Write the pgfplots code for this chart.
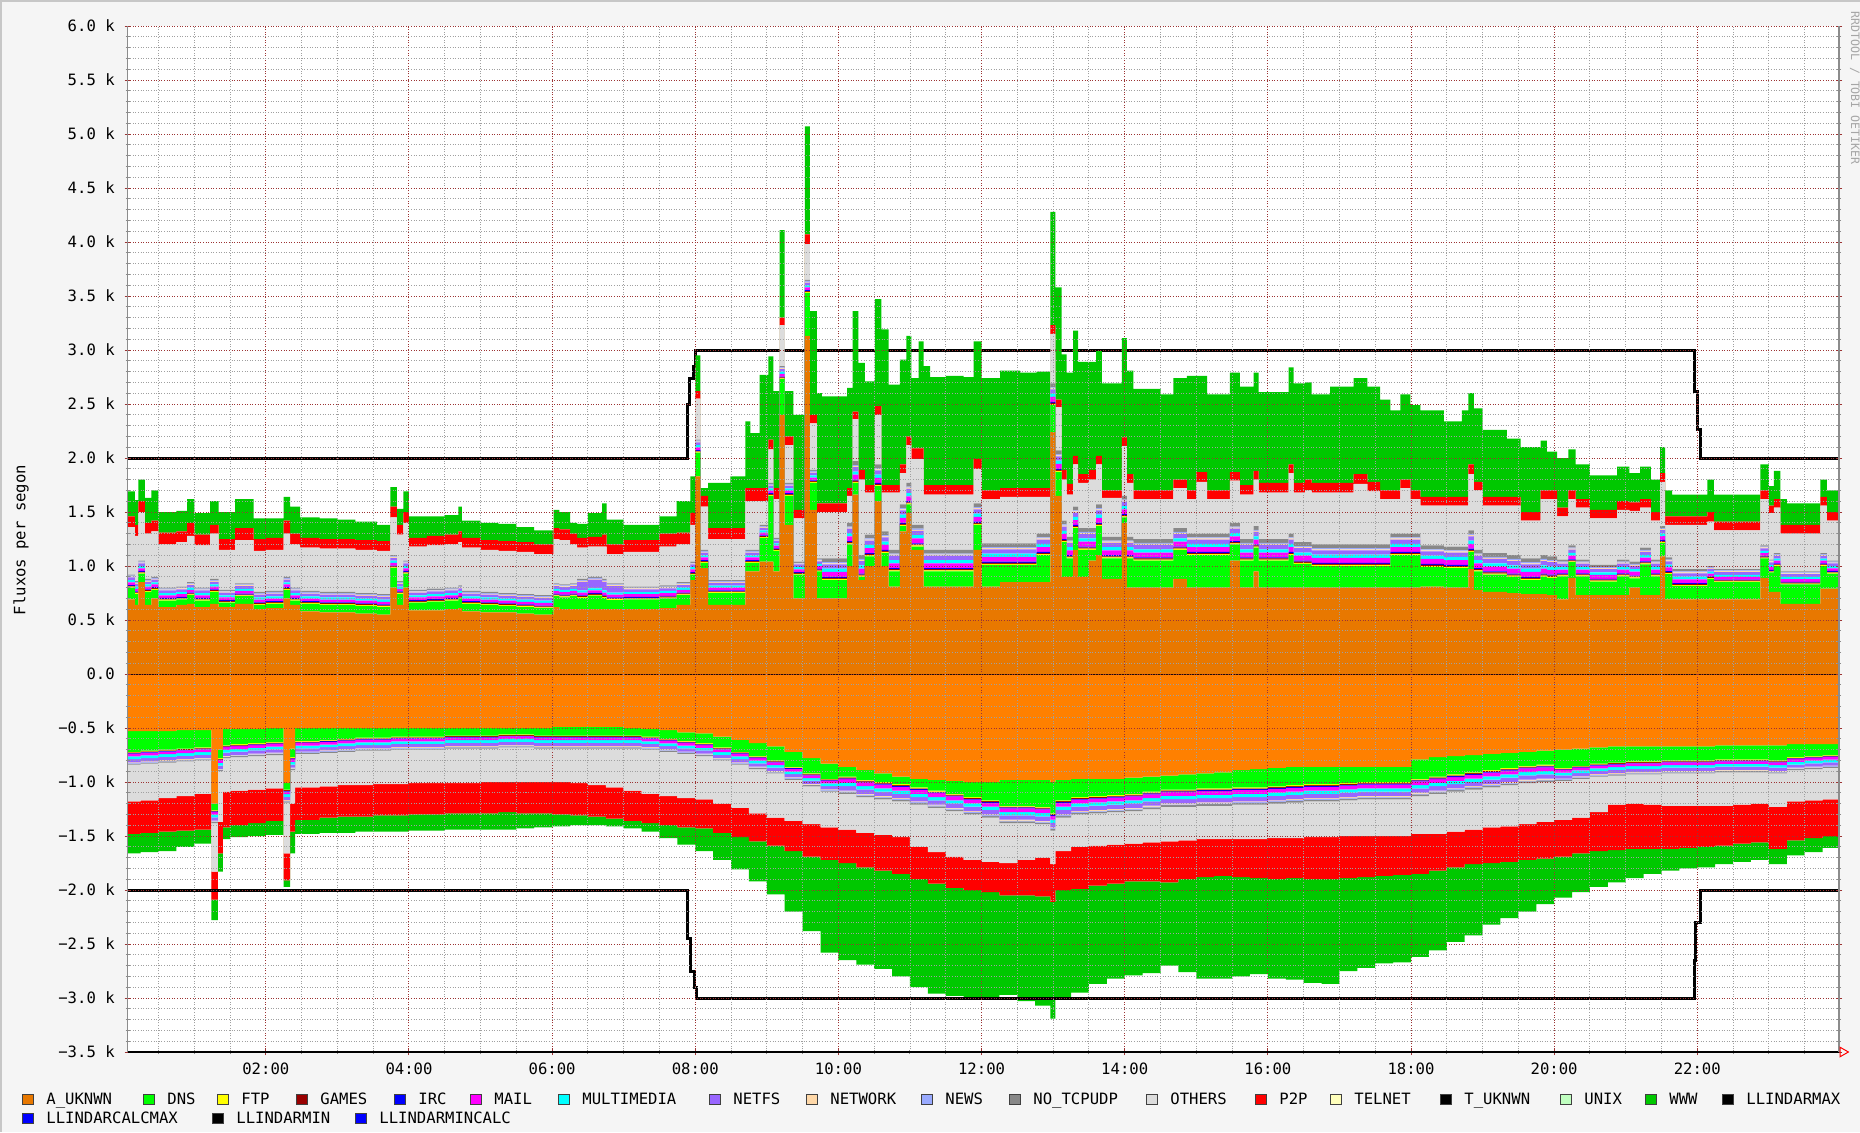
\documentclass[border=0pt]{standalone}
\usepackage{pgfplots}
\pgfplotsset{compat=1.18}
\usepackage{pgfplotstable}
\usepackage{fontspec}
\setmainfont{DejaVu Sans Mono}
\definecolor{cAUK}{HTML}{E87800}
\definecolor{cAUKn}{HTML}{FF8000}
\definecolor{cDNS}{HTML}{00FF00}
\definecolor{cFTP}{HTML}{FFFF00}
\definecolor{cGAM}{HTML}{990000}
\definecolor{cIRC}{HTML}{0000FF}
\definecolor{cMAIL}{HTML}{FF00FF}
\definecolor{cMM}{HTML}{00FFFF}
\definecolor{cNFS}{HTML}{9966FF}
\definecolor{cNET}{HTML}{FFD8A8}
\definecolor{cNEWS}{HTML}{99AAFF}
\definecolor{cNOT}{HTML}{888888}
\definecolor{cOTH}{HTML}{DCDCDC}
\definecolor{cP2P}{HTML}{FF0000}
\definecolor{cTEL}{HTML}{FFFFBB}
\definecolor{cTUK}{HTML}{000000}
\definecolor{cUNIX}{HTML}{C0FFC0}
\definecolor{cWWW}{HTML}{00C800}
\definecolor{gridmaj}{HTML}{9C3434}
\definecolor{gridmin}{HTML}{A0A0A0}
\definecolor{canvas}{HTML}{F5F5F5}
\newcommand\lgfont{\fontsize{7.8}{9}\selectfont}

\pgfplotstableread{
t A D s M C N T O P W
0.00 690 110 8 25 20 25 10 440 100 230
0.17 640 100 8 25 20 25 10 420 100 230
0.22 850 80 8 25 20 25 10 450 100 200
0.31 640 120 8 25 20 25 10 420 100 230
0.40 700 80 8 25 20 25 10 420 100 280
0.50 620 60 8 25 20 25 10 400 110 190
0.75 640 50 8 25 20 25 10 410 100 190
0.90 650 80 8 25 20 25 10 430 120 220
1.00 620 60 8 25 20 25 10 390 100 200
1.22 650 110 8 25 20 25 10 420 80 220
1.34 620 40 8 25 20 25 10 370 100 250
1.57 650 70 8 25 20 25 10 400 110 270
1.83 600 40 8 25 20 25 10 380 110 190
2.00 610 40 8 25 20 25 10 380 110 180
2.25 700 80 8 25 20 25 10 400 120 220
2.34 640 40 8 25 20 25 10 400 100 250
2.48 580 70 8 25 20 25 10 400 90 190
2.75 570 70 8 25 20 25 10 400 90 190
3.00 570 70 8 25 20 25 10 400 90 180
3.25 560 70 8 25 20 25 10 400 90 170
3.55 550 70 8 25 20 25 10 400 90 150
3.74 800 180 8 25 20 25 10 350 100 180
3.83 640 100 8 25 20 25 10 430 90 150
3.92 800 130 8 25 20 25 10 350 100 190
4.00 590 70 8 25 20 25 10 400 80 200
4.25 590 80 8 25 20 25 10 400 90 180
4.50 600 80 8 25 20 25 10 400 90 180
4.69 610 90 8 25 20 25 10 400 100 230
4.74 580 70 8 25 20 25 10 400 90 160
5.00 570 70 8 25 20 25 10 390 90 160
5.25 570 60 8 25 20 25 10 390 90 160
5.50 560 60 8 25 20 25 10 390 90 140
5.75 550 60 8 25 20 25 10 380 90 130
6.02 620 100 8 25 20 25 10 410 100 170
6.10 600 110 8 25 20 25 10 410 100 160
6.25 600 120 8 25 20 25 10 360 100 100
6.35 600 105 8 25 20 80 10 290 90 130
6.50 600 125 8 25 20 80 10 280 90 220
6.70 600 105 8 25 20 80 10 300 110 290
6.76 600 85 8 25 20 60 10 270 90 230
7.00 600 90 8 25 20 25 10 320 110 140
7.25 600 90 8 25 20 25 10 320 110 140
7.50 610 90 8 25 20 25 10 360 120 160
7.74 640 90 8 25 20 25 10 350 110 290
7.93 870 50 8 25 20 25 10 340 110 340
8.00 1830 220 8 25 20 25 10 380 70 330
8.07 980 50 8 25 20 25 10 400 100 70
8.18 640 110 8 25 20 25 10 380 100 420
8.49 640 110 8 25 20 25 10 380 100 480
8.70 950 80 8 25 20 25 10 450 120 620
8.77 950 80 8 25 20 25 10 450 120 510
8.90 1040 220 8 25 20 25 10 220 120 1050
9.02 1040 610 8 25 20 25 10 310 90 770
9.09 950 190 8 25 20 25 10 360 100 900
9.18 2400 330 8 25 20 25 10 380 70 810
9.25 1380 270 8 25 20 25 10 350 80 420
9.37 700 220 8 25 20 25 10 400 80 880
9.53 3130 400 8 25 20 25 10 330 90 1000
9.60 1520 250 8 25 20 25 10 430 80 960
9.70 700 250 8 25 20 25 10 430 80 1020
9.77 700 170 10 45 30 40 35 430 80 990
10.12 1000 200 10 45 30 40 35 250 70 930
10.20 1660 110 10 45 30 40 35 390 70 930
10.28 870 30 10 45 30 40 35 700 90 990
10.37 1000 90 10 45 30 40 35 390 70 960
10.51 1600 140 10 45 30 40 35 460 80 990
10.60 1000 120 10 45 30 40 35 360 70 1440
10.70 810 140 10 45 30 40 35 530 70 930
10.86 1320 50 10 45 30 40 35 290 80 970
10.95 1490 80 10 45 30 40 35 350 80 930
11.02 1150 30 10 45 30 40 35 610 100 650
11.12 1150 30 10 45 30 40 35 610 100 990
11.19 810 140 10 45 30 40 35 510 90 1100
11.28 810 140 10 45 30 40 35 510 90 1000
11.50 810 140 10 45 30 40 35 510 90 1010
11.75 810 140 10 45 30 40 35 510 90 1000
11.89 1150 230 10 45 30 40 35 320 90 1090
12.00 810 200 10 45 30 40 35 410 80 1040
12.26 850 160 10 45 30 40 35 430 80 1090
12.54 850 160 10 45 30 40 35 430 80 1070
12.77 850 250 10 45 30 40 35 340 80 1080
12.96 2240 250 10 45 30 40 35 460 80 1050
13.03 1650 220 10 45 30 40 35 400 70 1040
13.12 900 320 10 45 30 40 35 380 90 1070
13.19 900 170 10 45 30 40 35 390 100 1030
13.28 1150 200 10 45 30 40 35 390 80 1160
13.35 900 250 10 45 30 40 35 420 80 1040
13.50 1050 100 10 45 30 40 35 450 90 1000
13.60 1100 270 10 45 30 40 35 370 80 970
13.68 880 190 10 45 30 40 35 360 70 990
13.96 1400 50 10 45 30 40 35 460 80 920
14.03 800 270 10 45 30 40 35 500 80 960
14.12 800 250 10 45 30 40 35 370 80 940
14.50 800 250 10 45 30 40 35 370 80 890
14.68 880 270 10 45 30 40 35 370 80 940
14.87 800 300 10 45 30 40 35 320 80 1060
15.00 800 300 10 45 30 40 35 480 90 890
15.15 800 300 10 45 30 40 35 320 80 890
15.47 1050 150 10 45 30 40 35 390 80 920
15.61 800 250 10 45 30 40 35 410 90 910
15.80 950 220 10 45 30 40 35 430 80 910
15.87 800 250 10 45 30 40 35 430 90 840
16.29 800 300 10 45 30 40 35 560 80 900
16.36 800 220 10 45 30 40 35 460 90 920
16.52 800 220 10 45 30 40 35 480 100 900
16.61 800 200 10 45 30 40 35 480 90 820
16.87 800 200 10 45 30 40 35 480 90 890
17.20 800 200 10 45 30 40 35 560 90 890
17.39 800 200 10 45 30 40 35 490 90 880
17.57 800 200 10 45 30 40 35 420 80 840
17.71 800 300 10 45 30 40 35 320 80 740
17.85 800 300 10 45 30 40 35 420 80 790
17.99 800 300 10 45 30 40 35 320 80 790
18.13 810 180 10 45 30 40 35 370 80 800
18.46 800 180 10 45 30 40 35 380 80 700
18.71 800 180 10 45 30 40 35 380 80 800
18.80 970 160 10 45 30 40 35 520 90 660
18.88 780 170 10 45 30 40 35 550 80 680
19.00 760 160 10 45 30 40 35 440 80 620
19.34 750 150 10 45 30 40 35 460 80 540
19.53 740 130 10 45 30 40 35 350 80 600
19.81 740 160 10 45 30 40 35 520 80 460
19.90 730 160 10 45 30 40 35 530 80 360
20.04 690 215 9 35 25 30 20 400 80 460
20.20 890 145 9 35 25 30 20 430 80 380
20.30 730 175 9 35 25 30 20 480 80 320
20.50 730 125 9 35 25 30 20 430 80 320
20.88 730 175 9 35 25 30 20 460 80 320
21.05 800 85 9 35 25 30 20 470 80 270
21.20 730 285 9 35 25 30 20 370 80 300
21.35 730 175 9 35 25 30 20 360 80 300
21.48 1090 125 9 35 25 30 20 410 80 240
21.55 690 235 9 35 25 30 20 300 80 240
21.65 690 125 9 35 25 30 20 410 80 200
22.14 690 190 8 25 20 25 10 410 90 300
22.23 690 160 8 25 20 25 10 360 80 250
22.88 890 180 8 25 20 25 10 430 80 240
23.00 760 180 8 25 20 25 10 430 70 180
23.07 760 240 8 25 20 25 10 420 80 260
23.16 650 180 8 25 20 25 10 350 80 240
23.25 650 180 8 25 20 25 10 350 80 200
23.72 790 210 8 25 20 25 10 440 80 160
23.81 790 140 8 25 20 25 10 370 80 200
23.98 790 140 8 25 20 25 10 370 80 200
}\pos

\pgfplotstableread{
t a d s m c n g o p w
0.00 -530 -190 -6 -25 -25 -30 -10 -340 -300 -180
0.25 -530 -180 -6 -25 -25 -30 -10 -340 -300 -180
0.50 -530 -170 -6 -25 -25 -30 -10 -330 -310 -180
0.75 -520 -170 -6 -25 -25 -30 -10 -320 -320 -150
1.00 -520 -160 -6 -25 -25 -30 -10 -310 -330 -130
1.24 -1200 -60 -6 -25 -25 -30 -10 -450 -260 -190
1.33 -700 -80 -6 -25 -25 -30 -10 -470 -290 -170
1.40 -510 -150 -6 -25 -25 -30 -10 -310 -330 -110
1.50 -510 -140 -6 -25 -25 -30 -10 -310 -320 -110
1.75 -510 -130 -6 -25 -25 -30 -10 -310 -310 -120
2.00 -500 -130 -6 -25 -25 -30 -10 -310 -300 -130
2.25 -1010 -60 -6 -25 -25 -30 -10 -470 -250 -60
2.34 -690 -80 -6 -25 -25 -30 -10 -310 -260 -200
2.41 -500 -120 -6 -25 -25 -30 -10 -310 -300 -130
2.75 -500 -110 -6 -25 -25 -30 -10 -310 -290 -140
3.00 -500 -100 -6 -25 -25 -30 -10 -310 -290 -150
3.25 -500 -90 -6 -25 -25 -30 -10 -320 -290 -140
3.50 -500 -90 -6 -25 -25 -30 -10 -310 -290 -150
3.75 -500 -80 -6 -25 -25 -30 -10 -320 -290 -150
4.00 -500 -80 -6 -25 -25 -30 -10 -310 -290 -150
4.25 -500 -80 -6 -25 -25 -30 -10 -310 -290 -150
4.50 -500 -70 -6 -25 -25 -30 -10 -320 -280 -150
4.75 -500 -70 -6 -25 -25 -30 -10 -320 -280 -150
5.00 -500 -70 -6 -25 -25 -30 -10 -310 -290 -150
5.25 -500 -60 -6 -25 -25 -30 -10 -320 -280 -160
5.50 -500 -60 -6 -25 -25 -30 -10 -320 -290 -140
5.75 -500 -70 -6 -25 -25 -30 -10 -310 -290 -130
6.00 -490 -80 -6 -25 -25 -30 -10 -310 -300 -110
6.25 -490 -80 -6 -25 -25 -30 -10 -320 -300 -90
6.50 -490 -80 -6 -25 -25 -30 -10 -340 -290 -80
6.75 -490 -80 -6 -25 -25 -30 -10 -360 -290 -70
7.00 -500 -70 -6 -25 -25 -30 -10 -390 -280 -70
7.25 -510 -70 -6 -25 -25 -30 -10 -410 -270 -80
7.50 -520 -80 -6 -25 -25 -30 -10 -410 -270 -120
7.75 -540 -80 -6 -25 -25 -30 -10 -410 -270 -160
8.00 -550 -90 -6 -25 -25 -30 -10 -400 -270 -210
8.25 -580 -100 -6 -25 -25 -30 -10 -400 -270 -250
8.50 -610 -110 -6 -25 -25 -30 -10 -400 -270 -300
8.75 -640 -120 -6 -25 -25 -30 -10 -410 -260 -370
9.00 -670 -130 -6 -25 -25 -30 -10 -410 -260 -450
9.25 -720 -140 -6 -25 -25 -30 -10 -380 -280 -560
9.50 -780 -140 -6 -25 -25 -30 -10 -350 -300 -690
9.75 -830 -140 -6 -25 -25 -30 -10 -330 -300 -860
10.00 -860 -90 -8 -35 -30 -40 -15 -330 -310 -900
10.25 -890 -90 -8 -35 -30 -40 -15 -330 -320 -900
10.50 -920 -80 -8 -35 -30 -40 -15 -330 -330 -910
10.75 -950 -70 -8 -35 -30 -40 -15 -330 -340 -950
11.00 -970 -80 -8 -35 -30 -40 -15 -390 -300 -1000
11.25 -980 -100 -8 -35 -30 -40 -15 -410 -290 -1020
11.50 -990 -120 -8 -35 -30 -40 -15 -420 -290 -1000
11.75 -1000 -140 -8 -35 -30 -40 -15 -420 -280 -990
12.00 -1000 -170 -8 -35 -30 -40 -15 -410 -280 -970
12.25 -980 -240 -8 -35 -30 -40 -15 -370 -300 -920
12.50 -980 -240 -8 -35 -30 -40 -15 -340 -330 -980
12.75 -980 -250 -8 -35 -30 -40 -15 -310 -360 -1010
12.96 -1000 -290 -8 -35 -30 -40 -15 -310 -350 -1080
13.03 -980 -190 -8 -35 -30 -40 -15 -310 -360 -1000
13.25 -970 -170 -8 -35 -30 -40 -15 -300 -390 -960
13.50 -970 -160 -8 -35 -30 -40 -15 -300 -370 -910
13.75 -970 -150 -8 -35 -30 -40 -15 -300 -360 -880
14.00 -960 -150 -8 -35 -30 -40 -15 -300 -350 -870
14.25 -950 -140 -8 -35 -30 -40 -15 -310 -360 -850
14.50 -940 -130 -8 -35 -30 -40 -15 -320 -380 -770
14.75 -930 -140 -8 -35 -30 -40 -15 -310 -360 -860
15.00 -920 -140 -8 -35 -30 -40 -15 -310 -350 -940
15.25 -910 -150 -8 -35 -30 -40 -15 -310 -340 -950
15.50 -890 -160 -8 -35 -30 -40 -15 -320 -350 -920
15.75 -880 -170 -8 -35 -30 -40 -15 -320 -360 -890
16.00 -870 -170 -8 -35 -30 -40 -15 -320 -380 -920
16.25 -860 -170 -8 -35 -30 -40 -15 -330 -370 -940
16.50 -860 -160 -8 -35 -30 -40 -15 -330 -390 -960
16.75 -860 -160 -8 -35 -30 -40 -15 -330 -390 -970
17.00 -860 -150 -8 -35 -30 -40 -15 -330 -390 -860
17.25 -860 -140 -8 -35 -30 -40 -15 -340 -380 -840
17.50 -860 -140 -8 -35 -30 -40 -15 -340 -370 -810
17.75 -860 -140 -8 -35 -30 -40 -15 -340 -360 -810
18.00 -790 -180 -8 -35 -30 -40 -15 -350 -370 -770
18.25 -770 -180 -8 -35 -30 -40 -15 -370 -340 -740
18.50 -760 -170 -8 -35 -30 -40 -15 -370 -330 -690
18.75 -750 -160 -8 -35 -30 -40 -15 -370 -320 -660
19.00 -740 -150 -8 -35 -30 -40 -15 -370 -330 -570
19.25 -730 -140 -8 -35 -30 -40 -15 -380 -330 -520
19.50 -720 -130 -8 -35 -30 -40 -15 -380 -330 -480
19.75 -710 -130 -8 -35 -30 -40 -15 -370 -340 -420
20.00 -700 -170 -6 -25 -25 -30 -10 -360 -340 -380
20.25 -690 -160 -6 -25 -25 -30 -10 -360 -330 -360
20.50 -680 -150 -6 -25 -25 -30 -10 -330 -360 -330
20.75 -670 -150 -6 -25 -25 -30 -10 -270 -420 -300
21.00 -670 -140 -6 -25 -25 -30 -10 -270 -420 -270
21.25 -670 -140 -6 -25 -25 -30 -10 -280 -410 -230
21.50 -670 -130 -6 -25 -25 -30 -10 -300 -400 -200
21.75 -670 -130 -6 -25 -25 -30 -10 -300 -390 -190
22.00 -670 -130 -6 -25 -25 -30 -10 -300 -380 -190
22.25 -660 -130 -6 -25 -25 -30 -10 -310 -370 -170
22.50 -660 -130 -6 -25 -25 -30 -10 -300 -360 -170
22.75 -660 -130 -6 -25 -25 -30 -10 -290 -360 -160
23.00 -660 -140 -6 -25 -25 -30 -10 -310 -390 -140
23.25 -650 -120 -6 -25 -25 -30 -10 -290 -360 -140
23.50 -650 -110 -6 -25 -25 -30 -10 -290 -350 -130
23.75 -650 -100 -6 -25 -25 -30 -10 -290 -340 -110
23.98 -650 -100 -6 -25 -25 -30 -10 -290 -340 -110
}\negt

\pgfplotsset{rrd/.style={scale only axis, width=855.65pt, height=513pt,
  at={(63.85pt,40pt)}, anchor=south west,
  xmin=0.07, xmax=23.98, ymin=-3500, ymax=6000, stack plots=y}}

\newcommand\lgd[4]{%
  \filldraw[fill=#3, draw=black!75, line width=0.4pt] ({#1/2},{#2-2.5}) rectangle ++(5.5,5);
  \node[anchor=west, inner sep=0pt, text height=5.6pt, text depth=0pt, font=\lgfont] at ({#1/2+12},{#2}) {#4};}

\begin{document}
\begin{tikzpicture}[x=1pt,y=1pt]
\useasboundingbox (0,0) rectangle (930,566);
\fill[canvas] (0,0) rectangle (930,566);
\fill[black!22] (0,565) rectangle (930,566);
\fill[black!22] (0,0) rectangle (1,566);
\fill[white] (63.85,40) rectangle (919.5,553);

% negative (outgoing) stack
\begin{axis}[rrd, hide axis]
\addplot[fill=cAUKn, draw=none, const plot] table[x=t,y=a] {\negt} \closedcycle;
\addplot[fill=cDNS, draw=none, const plot] table[x=t,y=d] {\negt} \closedcycle;
\addplot[fill=cFTP, draw=none, const plot] table[x=t,y=s] {\negt} \closedcycle;
\addplot[fill=cGAM, draw=none, const plot] table[x=t,y=s] {\negt} \closedcycle;
\addplot[fill=cIRC, draw=none, const plot] table[x=t,y=s] {\negt} \closedcycle;
\addplot[fill=cMAIL, draw=none, const plot] table[x=t,y=m] {\negt} \closedcycle;
\addplot[fill=cMM, draw=none, const plot] table[x=t,y=c] {\negt} \closedcycle;
\addplot[fill=cNFS, draw=none, const plot] table[x=t,y=n] {\negt} \closedcycle;
\addplot[fill=cNET, draw=none, const plot] table[x=t,y=s] {\negt} \closedcycle;
\addplot[fill=cNEWS, draw=none, const plot] table[x=t,y=s] {\negt} \closedcycle;
\addplot[fill=cNOT, draw=none, const plot] table[x=t,y=g] {\negt} \closedcycle;
\addplot[fill=cOTH, draw=none, const plot] table[x=t,y=o] {\negt} \closedcycle;
\addplot[fill=cP2P, draw=none, const plot] table[x=t,y=p] {\negt} \closedcycle;
\addplot[fill=cWWW, draw=none, const plot] table[x=t,y=w] {\negt} \closedcycle;
\end{axis}

% positive (incoming) stack, grid, thresholds
\begin{axis}[rrd, axis on top,
  axis x line*=bottom, axis y line*=box,
  x axis line style={black, line width=0.6pt},
  y axis line style={black!45, line width=0.8pt},
  xtick={2,4,...,22},
  xticklabels={02:00,04:00,06:00,08:00,10:00,12:00,14:00,16:00,18:00,20:00,22:00},
  minor xtick={0.5,1,1.5,2.5,3,3.5,4.5,5,5.5,6.5,7,7.5,8.5,9,9.5,10.5,11,11.5,12.5,13,13.5,14.5,15,15.5,16.5,17,17.5,18.5,19,19.5,20.5,21,21.5,22.5,23,23.5},
  ytick={-3500,-3000,...,6000},
  yticklabels={−3.5 k,−3.0 k,−2.5 k,−2.0 k,−1.5 k,−1.0 k,−0.5 k,0.0,0.5 k,1.0 k,1.5 k,2.0 k,2.5 k,3.0 k,3.5 k,4.0 k,4.5 k,5.0 k,5.5 k,6.0 k},
  minor ytick={-3400,-3300,-3200,-3100,-2900,-2800,-2700,-2600,-2400,-2300,-2200,-2100,-1900,-1800,-1700,-1600,-1400,-1300,-1200,-1100,-900,-800,-700,-600,-400,-300,-200,-100,100,200,300,400,600,700,800,900,1100,1200,1300,1400,1600,1700,1800,1900,2100,2200,2300,2400,2600,2700,2800,2900,3100,3200,3300,3400,3600,3700,3800,3900,4100,4200,4300,4400,4600,4700,4800,4900,5100,5200,5300,5400,5600,5700,5800,5900},
  grid=both,
  major grid style={gridmaj, line width=0.5pt, dash pattern=on 0.5pt off 0.8pt},
  minor grid style={gridmin, line width=0.45pt, dash pattern=on 0.5pt off 0.8pt},
  tick align=center, major tick length=3pt, minor tick length=2pt,
  major tick style={gridmaj, line width=0.5pt},
  minor tick style={black!45, line width=0.5pt},
  tick label style={font=\lgfont},
  yticklabel style={anchor=east, inner sep=0pt, xshift=-4.8pt},
  xticklabel style={anchor=north, inner sep=0pt, yshift=-3.6pt},
]
\addplot[fill=cAUK, draw=none, const plot] table[x=t,y=A] {\pos} \closedcycle;
\addplot[fill=cDNS, draw=none, const plot] table[x=t,y=D] {\pos} \closedcycle;
\addplot[fill=cFTP, draw=none, const plot] table[x=t,y=s] {\pos} \closedcycle;
\addplot[fill=cGAM, draw=none, const plot] table[x=t,y=s] {\pos} \closedcycle;
\addplot[fill=cIRC, draw=none, const plot] table[x=t,y=s] {\pos} \closedcycle;
\addplot[fill=cMAIL, draw=none, const plot] table[x=t,y=M] {\pos} \closedcycle;
\addplot[fill=cMM, draw=none, const plot] table[x=t,y=C] {\pos} \closedcycle;
\addplot[fill=cNFS, draw=none, const plot] table[x=t,y=N] {\pos} \closedcycle;
\addplot[fill=cNET, draw=none, const plot] table[x=t,y=s] {\pos} \closedcycle;
\addplot[fill=cNEWS, draw=none, const plot] table[x=t,y=s] {\pos} \closedcycle;
\addplot[fill=cNOT, draw=none, const plot] table[x=t,y=T] {\pos} \closedcycle;
\addplot[fill=cOTH, draw=none, const plot] table[x=t,y=O] {\pos} \closedcycle;
\addplot[fill=cP2P, draw=none, const plot] table[x=t,y=P] {\pos} \closedcycle;
\addplot[fill=cWWW, draw=none, const plot] table[x=t,y=W] {\pos} \closedcycle;
% zero / calc lines
\addplot[stack plots=false, black, line width=1.3pt] coordinates {(0,0) (24,0)};
\addplot[stack plots=false, cIRC, line width=0.5pt, dash pattern=on 0.5pt off 1pt] coordinates {(0,0) (24,0)};
% LLINDARMAX
\addplot[stack plots=false, black, line width=1.5pt] coordinates {
(0,2000) (7.89,2000) (7.89,2500) (7.92,2500) (7.92,2740) (7.97,2740) (7.97,2850) (8.01,2850) (8.01,3000)
(21.96,3000) (21.96,2620) (22.00,2620) (22.00,2260) (22.05,2260) (22.05,2000) (24,2000)};
% LLINDARMIN
\addplot[stack plots=false, black, line width=1.5pt] coordinates {
(0,-2000) (7.89,-2000) (7.89,-2450) (7.94,-2450) (7.94,-2750) (7.99,-2750) (7.99,-2900) (8.02,-2900) (8.02,-3000)
(21.955,-3000) (21.955,-2650) (21.98,-2650) (21.98,-2300) (22.04,-2300) (22.04,-2000) (24,-2000)};
\end{axis}

% axis arrow
\draw[cP2P, line width=0.5pt] (920,37.6) -- (924.2,40) -- (920,42.4) -- cycle;

% y label and watermark
\node[rotate=90, font=\lgfont, inner sep=0pt] at (10.5,296) {Fluxos per segon};
\node[rotate=-90, font=\fontsize{5.8}{6}\selectfont, text=black!35, inner sep=0pt] at (927.5,522) {RRDTOOL / TOBI OETIKER};

% legend
\lgd{22}{16.5}{cAUK}{A\_UKNWN}
\lgd{143}{16.5}{cDNS}{DNS}
\lgd{217}{16.5}{cFTP}{FTP}
\lgd{296}{16.5}{cGAM}{GAMES}
\lgd{394}{16.5}{cIRC}{IRC}
\lgd{470}{16.5}{cMAIL}{MAIL}
\lgd{558}{16.5}{cMM}{MULTIMEDIA}
\lgd{709}{16.5}{cNFS}{NETFS}
\lgd{806}{16.5}{cNET}{NETWORK}
\lgd{921}{16.5}{cNEWS}{NEWS}
\lgd{1009}{16.5}{cNOT}{NO\_TCPUDP}
\lgd{1146}{16.5}{cOTH}{OTHERS}
\lgd{1255}{16.5}{cP2P}{P2P}
\lgd{1330}{16.5}{cTEL}{TELNET}
\lgd{1440}{16.5}{cTUK}{T\_UKNWN}
\lgd{1560}{16.5}{cUNIX}{UNIX}
\lgd{1645}{16.5}{cWWW}{WWW}
\lgd{1722}{16.5}{black}{LLINDARMAX}
\lgd{22}{7}{cIRC}{LLINDARCALCMAX}
\lgd{212}{7}{black}{LLINDARMIN}
\lgd{355}{7}{cIRC}{LLINDARMINCALC}
\end{tikzpicture}
\end{document}
